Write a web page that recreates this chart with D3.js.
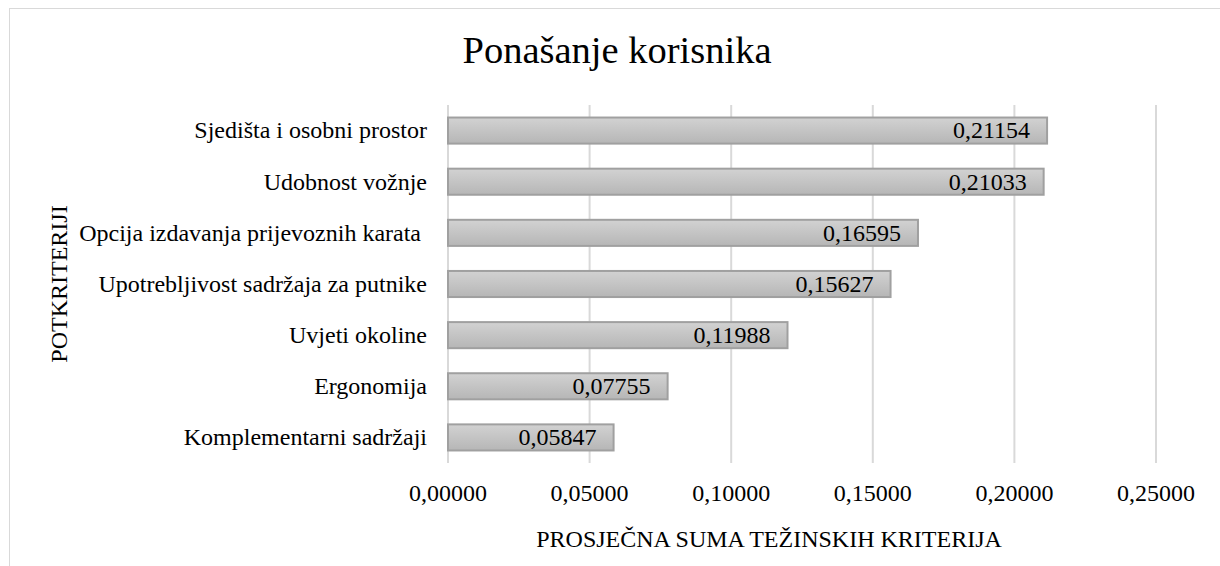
<!DOCTYPE html>
<html lang="hr">
<head>
    <meta charset="UTF-8">
    <title>Ponašanje korisnika</title>
    <script src="https://d3js.org/d3.v7.min.js"></script>
    <style>
        body { margin: 0; background: #fff; }
    </style>
</head>
<body>
<script>

    var categories = [
        "Sjedišta i osobni prostor",
        "Udobnost vožnje",
        "Opcija izdavanja prijevoznih karata ",
        "Upotrebljivost sadržaja za putnike",
        "Uvjeti okoline",
        "Ergonomija",
        "Komplementarni sadržaji"
    ]
    var values = [0.21154, 0.21033, 0.16595, 0.15627, 0.11988, 0.07755, 0.05847]
    var ticks = [0, 0.05, 0.10, 0.15, 0.20, 0.25]

    var width = 1220
    var height = 566
    var font = "'Times New Roman', 'Liberation Serif', 'DejaVu Serif', serif"

    var svg = d3.select("body").append("svg")
        .attr("width", width)
        .attr("height", height)
        .attr("font-family", font)

    // chart frame
    svg.append("rect")
        .attr("x", 9.5)
        .attr("y", 8.5)
        .attr("width", width + 20)
        .attr("height", height + 20)
        .attr("fill", "#fff")
        .attr("stroke", "#d9d9d9")
        .attr("stroke-width", 1)

    var defs = svg.append("defs")
    var grad = defs.append("linearGradient")
        .attr("id", "barGrad")
        .attr("x1", 0).attr("y1", 0)
        .attr("x2", 0).attr("y2", 1)
    grad.append("stop").attr("offset", "0%").attr("stop-color", "#d2d2d2")
    grad.append("stop").attr("offset", "100%").attr("stop-color", "#b6b6b6")

    var x = d3.scaleLinear()
        .domain([0, 0.25])
        .range([448, 1156])

    var y = d3.scaleBand()
        .domain(categories)
        .range([105, 463])
        .paddingInner(0.49)
        .paddingOuter(0.245)

    var fmt = function (v) { return d3.format(".5f")(v).replace(".", ",") }

    // gridlines
    svg.selectAll(".grid")
        .data(ticks)
        .enter().append("line")
        .attr("class", "grid")
        .attr("x1", function (d) { return x(d) })
        .attr("x2", function (d) { return x(d) })
        .attr("y1", 105)
        .attr("y2", 463)
        .attr("stroke", "#d9d9d9")
        .attr("stroke-width", 2)

    // bars
    svg.selectAll(".bar")
        .data(values)
        .enter().append("rect")
        .attr("class", "bar")
        .attr("x", x(0))
        .attr("y", function (d, i) { return y(categories[i]) })
        .attr("width", function (d) { return x(d) - x(0) })
        .attr("height", y.bandwidth())
        .attr("fill", "url(#barGrad)")
        .attr("stroke", "#a0a0a0")
        .attr("stroke-width", 2)

    // value labels
    svg.selectAll(".val")
        .data(values)
        .enter().append("text")
        .attr("class", "val")
        .attr("x", function (d) { return x(d) - 17 })
        .attr("y", function (d, i) { return y(categories[i]) + y.bandwidth() / 2 })
        .attr("dy", "0.33em")
        .attr("text-anchor", "end")
        .attr("font-size", 24)
        .text(function (d) { return fmt(d) })

    // category labels
    svg.selectAll(".cat")
        .data(categories)
        .enter().append("text")
        .attr("class", "cat")
        .attr("x", 427)
        .attr("y", function (d) { return y(d) + y.bandwidth() / 2 })
        .attr("dy", "0.33em")
        .attr("text-anchor", "end")
        .attr("font-size", 24)
        .style("white-space", "pre")
        .text(function (d) { return d })

    // tick labels
    svg.selectAll(".tick")
        .data(ticks)
        .enter().append("text")
        .attr("class", "tick")
        .attr("x", function (d) { return x(d) })
        .attr("y", 501)
        .attr("text-anchor", "middle")
        .attr("font-size", 24)
        .text(function (d) { return fmt(d) })

    // titles
    svg.append("text")
        .attr("x", 617)
        .attr("y", 63)
        .attr("text-anchor", "middle")
        .attr("font-size", 38.5)
        .text("Ponašanje korisnika")

    svg.append("text")
        .attr("x", 769)
        .attr("y", 547)
        .attr("text-anchor", "middle")
        .attr("font-size", 24)
        .text("PROSJEČNA SUMA TEŽINSKIH KRITERIJA")

    svg.append("text")
        .attr("transform", "translate(67,284) rotate(-90)")
        .attr("text-anchor", "middle")
        .attr("font-size", 24)
        .text("POTKRITERIJI")

</script>
</body>
</html>
